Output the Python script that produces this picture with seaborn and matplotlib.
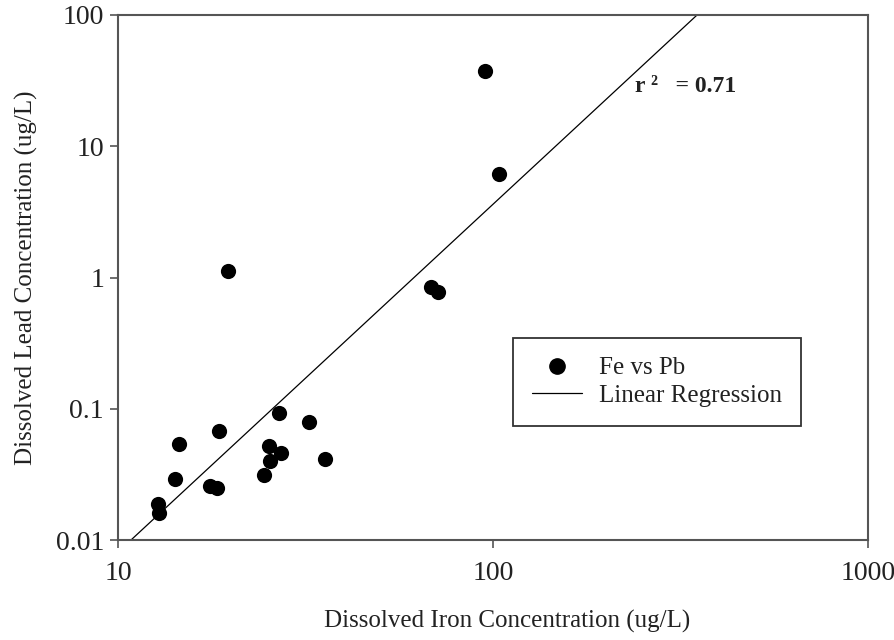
import numpy as np
import pandas as pd
import matplotlib
matplotlib.use("Agg")
import matplotlib.pyplot as plt
import seaborn as sns
from matplotlib.lines import Line2D

# Data
iron = [95.2, 103.7, 19.6, 68.3, 71.5, 26.8, 32.4, 18.6, 14.5, 25.2, 27.2,
        25.4, 35.6, 14.2, 24.5, 17.6, 18.4, 12.8, 12.9]
lead = [37.4, 6.15, 1.12, 0.84, 0.77, 0.0923, 0.0797, 0.0677, 0.0536, 0.052,
        0.0458, 0.040, 0.0414, 0.029, 0.0313, 0.0258, 0.0248, 0.0188, 0.016]

# Regression line (log10 Pb = intercept + slope * log10 Fe)
reg_slope = 2.65
reg_intercept = -4.742
reg_fe = [10.0, 1000.0]
r2_label = "r \u00b2   = 0.71"

x_ticks = [10, 100, 1000]
x_ticklabels = ["10", "100", "1000"]
y_ticks = [0.01, 0.1, 1, 10, 100]
y_ticklabels = ["0.01", "0.1", "1", "10", "100"]

sns.set_theme(style="white")
plt.rcParams['font.family'] = ['Liberation Serif', 'DejaVu Serif']

fig = plt.figure(figsize=(8.95, 6.4), dpi=100)
ax = fig.add_axes([118 / 895, 1 - 540 / 640, (868 - 118) / 895, (540 - 15) / 640])

df = pd.DataFrame({"Fe": iron, "Pb": lead})
fe_line = np.logspace(np.log10(reg_fe[0]), np.log10(reg_fe[1]), 50)
pb_line = 10 ** (reg_intercept + reg_slope * np.log10(fe_line))
line_df = pd.DataFrame({"Fe": fe_line, "Pb": pb_line})

sns.lineplot(data=line_df, x="Fe", y="Pb", ax=ax, color="black", linewidth=0.9)
sns.scatterplot(data=df, x="Fe", y="Pb", ax=ax, color="black", s=120,
                edgecolor="black", linewidth=0, zorder=3)

ax.set_xscale("log")
ax.set_yscale("log")
ax.set_xlim(10, 1000)
ax.set_ylim(0.01, 100)
ax.set_xticks(x_ticks)
ax.set_xticklabels(x_ticklabels)
ax.set_yticks(y_ticks)
ax.set_yticklabels(y_ticklabels)
ax.minorticks_off()
ax.tick_params(axis="both", which="major", direction="out", length=6, width=1.2,
               color="#555555", labelsize=20, labelcolor="#222222",
               bottom=True, left=True)
ax.tick_params(axis="x", pad=9)
ax.tick_params(axis="y", pad=4)

for s in ax.spines.values():
    s.set_visible(True)
    s.set_color("#555555")
    s.set_linewidth(1.5)

ax.set_xlabel("Dissolved Iron Concentration (ug/L)", fontsize=18,
              color="#222222")
ax.xaxis.set_label_coords(0.519, -0.134)
ax.set_ylabel("Dissolved Lead Concentration (ug/L)", fontsize=18,
              color="#222222", labelpad=13)

ax.text(635 / 895, 1 - 87 / 640, r2_label, transform=fig.transFigure,
        fontsize=17, fontweight="bold", color="#222222", va="center", ha="left")

handles = [
    Line2D([0], [0], marker="o", color="none", markerfacecolor="black",
           markeredgecolor="black", markersize=11),
    Line2D([0], [0], color="black", linewidth=0.9),
]
leg = ax.legend(handles, ["Fe vs Pb", "Linear Regression"],
                loc="upper left", bbox_to_anchor=(513 / 895, 1 - 338 / 640),
                bbox_transform=fig.transFigure, fontsize=18, frameon=True,
                fancybox=False, edgecolor="#333333", framealpha=1,
                borderpad=0.75, handlelength=2.0, handletextpad=0.7,
                labelspacing=0.2, borderaxespad=0)
leg.get_frame().set_linewidth(1.3)
for t in leg.get_texts():
    t.set_color("#222222")

fig.savefig("out.png", dpi=100)
